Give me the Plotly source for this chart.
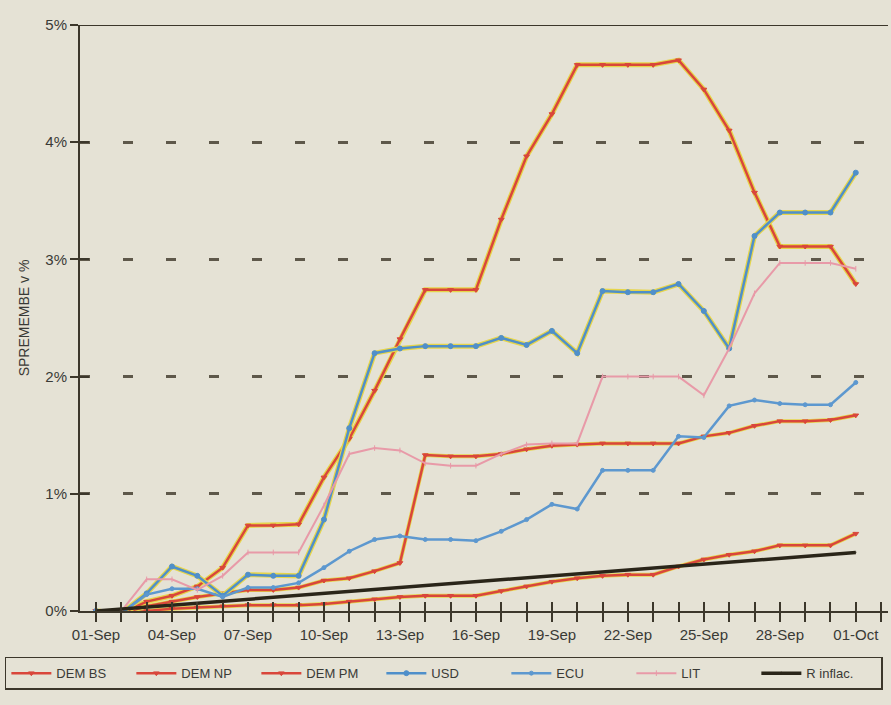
import plotly.graph_objects as go

dates = ["1993-09-%02d" % d for d in range(1, 31)] + ["1993-10-01"]
tick_dates = ["1993-09-01", "1993-09-04", "1993-09-07", "1993-09-10", "1993-09-13",
              "1993-09-16", "1993-09-19", "1993-09-22", "1993-09-25", "1993-09-28", "1993-10-01"]
tick_labels = ["01-Sep", "04-Sep", "07-Sep", "10-Sep", "13-Sep", "16-Sep",
               "19-Sep", "22-Sep", "25-Sep", "28-Sep", "01-Oct"]

dem_bs = [0, -0.03, 0.0, 0.02, 0.03, 0.04, 0.05, 0.05, 0.05, 0.06, 0.08, 0.10, 0.12,
          0.13, 0.13, 0.13, 0.17, 0.21, 0.25, 0.28, 0.30, 0.31, 0.31, 0.38, 0.44,
          0.48, 0.51, 0.56, 0.56, 0.56, 0.66]
dem_np = [0, -0.02, 0.04, 0.08, 0.12, 0.15, 0.18, 0.18, 0.20, 0.26, 0.28, 0.34, 0.41,
          1.33, 1.32, 1.32, 1.34, 1.38, 1.41, 1.42, 1.43, 1.43, 1.43, 1.43, 1.49,
          1.52, 1.58, 1.62, 1.62, 1.63, 1.67]
dem_pm = [0, -0.02, 0.08, 0.13, 0.21, 0.37, 0.73, 0.73, 0.74, 1.14, 1.47, 1.88, 2.32,
          2.74, 2.74, 2.74, 3.34, 3.88, 4.24, 4.66, 4.66, 4.66, 4.66, 4.70, 4.45,
          4.10, 3.57, 3.11, 3.11, 3.11, 2.79]
usd = [0, -0.02, 0.15, 0.38, 0.30, 0.13, 0.31, 0.30, 0.30, 0.78, 1.56, 2.20, 2.24,
       2.26, 2.26, 2.26, 2.33, 2.27, 2.39, 2.20, 2.73, 2.72, 2.72, 2.79, 2.56,
       2.24, 3.20, 3.40, 3.40, 3.40, 3.74]
ecu = [0, -0.02, 0.14, 0.19, 0.19, 0.12, 0.20, 0.20, 0.24, 0.37, 0.51, 0.61, 0.64,
       0.61, 0.61, 0.60, 0.68, 0.78, 0.91, 0.87, 1.20, 1.20, 1.20, 1.49, 1.48,
       1.75, 1.80, 1.77, 1.76, 1.76, 1.95]
lit = [0, 0.0, 0.27, 0.27, 0.18, 0.30, 0.50, 0.50, 0.50, 0.90, 1.34, 1.39, 1.37,
       1.26, 1.24, 1.24, 1.34, 1.42, 1.43, 1.43, 2.00, 2.00, 2.00, 2.00, 1.84,
       2.24, 2.71, 2.97, 2.97, 2.97, 2.92]
infl_dates = ["1993-09-01", "1993-10-01"]
infl = [0, 0.50]

RED = "#d9463b"
YEL = "#e6d54a"
BLUE = "#4f8fca"
ECUBLUE = "#5d98cf"
PINK = "#e89aa8"
DARK = "#3c372b"
BG = "#e5e2d5"
FONT = "Liberation Sans Narrow, Liberation Sans, Arial, sans-serif"

fig = go.Figure()

def add(name, x, y, color, halo=None, hw=2, marker="circle", msize=5, width=2.5):
    if halo:
        fig.add_trace(go.Scatter(x=x, y=y, mode="lines", line=dict(color=halo, width=width + hw),
                                 showlegend=False, hoverinfo="skip"))
    fig.add_trace(go.Scatter(x=x, y=y, name=name, mode="lines+markers",
                             line=dict(color=color, width=width),
                             marker=dict(symbol=marker, size=msize, color=color,
                                         line=dict(color=color, width=1))))

add("DEM BS", dates, dem_bs, RED, halo=YEL, hw=1.5, marker="triangle-down", msize=5)
add("DEM NP", dates, dem_np, RED, halo=YEL, hw=1.5, marker="triangle-down", msize=5)
add("DEM PM", dates, dem_pm, RED, halo=YEL, hw=2.5, marker="triangle-down", msize=5)
add("USD", dates, usd, BLUE, halo=YEL, hw=2.5, marker="circle", msize=5)
add("ECU", dates, ecu, ECUBLUE, marker="circle", msize=4)
add("LIT", dates, lit, PINK, marker="line-ns", msize=4, width=2)
add("R inflac.", infl_dates, infl, "#2a2519", marker="line-ns", msize=1, width=3.5)

# invisible trace on overlay axes so inside ticks are drawn
fig.add_trace(go.Scatter(x=infl_dates, y=infl, xaxis="x2", yaxis="y2", mode="lines",
                         line=dict(width=0), showlegend=False, hoverinfo="skip"))

xr = ["1993-08-31 08:50", "1993-10-02 06:30"]
fig.update_layout(
    width=891, height=705,
    margin=dict(l=80, r=3, t=25, b=94, autoexpand=False),
    paper_bgcolor=BG, plot_bgcolor=BG,
    font=dict(family=FONT, color="#3a3a36", size=15),
    xaxis=dict(type="date", range=xr, tickvals=tick_dates, ticktext=tick_labels,
               automargin=False,
               showgrid=False, zeroline=False, showline=True, linecolor=DARK, linewidth=2,
               ticks="outside", ticklen=9, tickwidth=2, tickcolor=DARK,
               minor=dict(dtick=86400000, ticks="outside", ticklen=9, tickwidth=2, tickcolor=DARK),
               tickfont=dict(size=15, color="#3a3a36")),
    xaxis2=dict(type="date", range=xr, overlaying="x", anchor="y", side="bottom",
                automargin=False,
                dtick=86400000, tick0="1993-09-01", showticklabels=False, showgrid=False,
                zeroline=False, showline=False, ticks="inside", ticklen=9, tickwidth=2,
                tickcolor=DARK),
    yaxis=dict(range=[0, 5], tickvals=[0, 1, 2, 3, 4, 5],
               ticktext=["0%", "1%", "2%", "3%", "4%", "5%"], automargin=False,
               showgrid=True, gridcolor="#5e584a", gridwidth=2.5, griddash="10px,33px",
               zeroline=False, showline=True, linecolor=DARK, linewidth=2, mirror=False,
               ticks="outside", ticklen=8, tickwidth=2, tickcolor=DARK,
               tickfont=dict(size=15, color="#3a3a36"),
               title=dict(text="SPREMEMBE v %", font=dict(size=14, color="#3a3a36"), standoff=12)),
    yaxis2=dict(range=[0, 5], overlaying="y", anchor="x", side="left", automargin=False,
                tickvals=[0, 1, 2, 3, 4, 5], showticklabels=False, showgrid=False,
                zeroline=False, showline=False, ticks="inside", ticklen=9, tickwidth=2,
                tickcolor=DARK),
    legend=dict(orientation="h", x=-0.093, xanchor="left", y=-0.078, yanchor="top",
                bgcolor="rgba(0,0,0,0)", bordercolor=DARK, borderwidth=1.5,
                entrywidth=70, entrywidthmode="pixels", itemwidth=40,
                font=dict(size=13, color="#3a3a36", family=FONT),
                traceorder="normal"),
    showlegend=True,
    shapes=[dict(type="line", xref="paper", yref="y", x0=0, x1=1.0, y0=5, y1=5,
                 line=dict(color=DARK, width=2))],
)

fig.write_html("out.html",
               config={"displayModeBar": False},
               post_script="document.body.style.margin='0';document.body.style.overflow='hidden';"
                           "document.body.style.background='%s';" % BG)
